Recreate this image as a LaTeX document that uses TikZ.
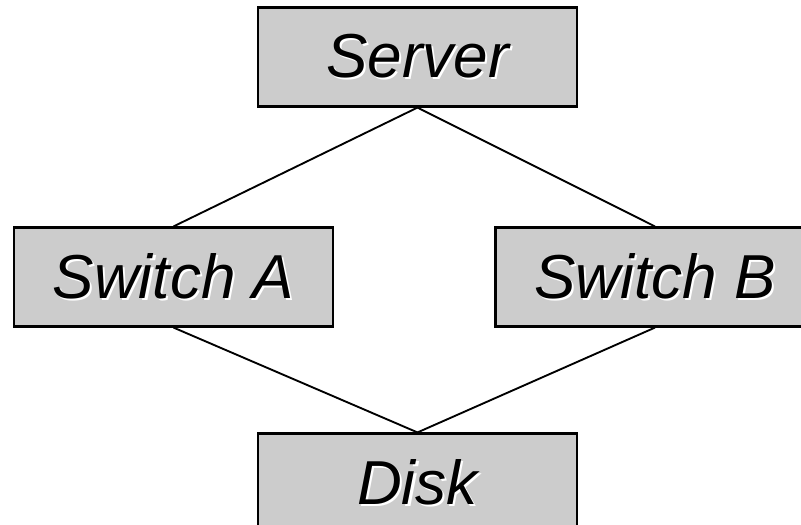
\documentclass[tikz,border=0pt]{standalone}
\usepackage{fontspec}
\setmainfont{Liberation Sans}
\usetikzlibrary{positioning}

\definecolor{boxgray}{RGB}{204,204,204}
% text with a thin white drop shadow under it
\newcommand{\shadowed}[1]{\makebox[0pt][l]{\hspace{1.8pt}\raisebox{-1.8pt}{\color{white}#1}}#1}
\tikzset{
    unit box/.style={
        draw, fill=boxgray, line width=2.4pt,
        minimum width=9.57cm, minimum height=2.95cm, inner sep=0pt,
        font=\fontsize{53}{60}\selectfont\itshape
    },
    link/.style={line width=1.6pt}
}

\begin{document}
\begin{tikzpicture}[x=0.03cm, y=-0.03cm]
        % page frame
        \useasboundingbox (0,0) rectangle (801,525);
        \clip (0,0) rectangle (801,525);

        % boxes
        \node [unit box] (server)  at (417.5,57)  {\shadowed{Server}};
        \node [unit box] (switchA) at (173.5,277) {\shadowed{Switch A}};
        \node [unit box] (switchB) at (655,277)   {\shadowed{Switch B}};
        \node [unit box] (disk)    at (417.5,483) {\shadowed{Disk}};

        % links
        \draw [link] (server.south)  -- (switchA.north);
        \draw [link] (server.south)  -- (switchB.north);
        \draw [link] (switchA.south) -- (disk.north);
        \draw [link] (switchB.south) -- (disk.north);
\end{tikzpicture}
\end{document}
